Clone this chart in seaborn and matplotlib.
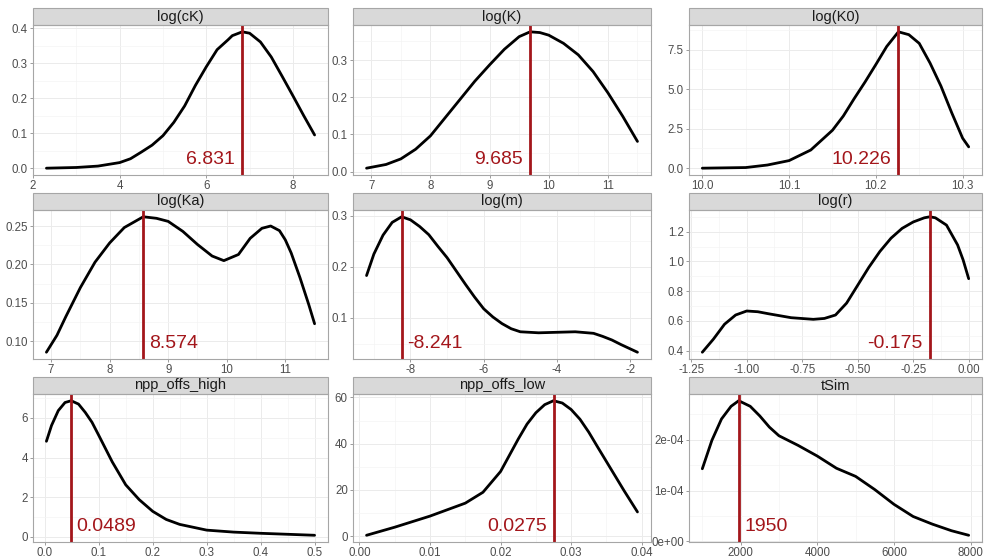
import matplotlib
matplotlib.use("Agg")
import matplotlib.pyplot as plt
from matplotlib.patches import Rectangle
from matplotlib.ticker import AutoMinorLocator
import seaborn as sns
import pandas as pd

# density curves (x, y)
ck_x = [2.31, 3.0, 3.5, 4.0, 4.25, 4.5, 4.75, 5.0, 5.25, 5.5, 5.75, 6.0, 6.25, 6.5, 6.6, 6.831,
        7.0, 7.25, 7.5, 7.75, 8.0, 8.25, 8.5]
ck_y = [0.0, 0.002, 0.006, 0.016, 0.027, 0.046, 0.066, 0.093, 0.131, 0.178, 0.237, 0.29, 0.339,
        0.367, 0.379, 0.39, 0.386, 0.361, 0.318, 0.263, 0.207, 0.15, 0.095]

k_x = [6.92, 7.25, 7.5, 7.75, 8.0, 8.25, 8.5, 8.75, 9.0, 9.25, 9.5, 9.685, 9.85, 10.0, 10.25,
       10.5, 10.75, 11.0, 11.25, 11.5]
k_y = [0.009, 0.019, 0.034, 0.06, 0.096, 0.145, 0.194, 0.243, 0.287, 0.329, 0.363, 0.376, 0.374,
       0.367, 0.345, 0.314, 0.269, 0.212, 0.149, 0.081]

k0_x = [10.0, 10.05, 10.075, 10.1, 10.125, 10.15, 10.1625, 10.175, 10.1875, 10.2, 10.2125,
        10.226, 10.238, 10.25, 10.2625, 10.275, 10.2875, 10.3, 10.307]
k0_y = [0.0, 0.04, 0.2, 0.48, 1.15, 2.4, 3.3, 4.4, 5.45, 6.56, 7.7, 8.63, 8.45, 7.9, 6.65, 5.2,
        3.5, 1.9, 1.35]

ka_x = [6.92, 7.1, 7.25, 7.5, 7.75, 8.0, 8.25, 8.574, 8.8, 9.0, 9.25, 9.5, 9.75, 9.95, 10.2,
        10.4, 10.6, 10.75, 10.9, 11.0, 11.1, 11.25, 11.4, 11.5]
ka_y = [0.086, 0.108, 0.132, 0.170, 0.203, 0.228, 0.248, 0.262, 0.260, 0.256, 0.243, 0.226,
        0.211, 0.205, 0.213, 0.234, 0.247, 0.250, 0.244, 0.232, 0.215, 0.183, 0.148, 0.123]

m_x = [-9.2, -9.0, -8.75, -8.5, -8.241, -8.0, -7.75, -7.5, -7.25, -7.0, -6.75, -6.5, -6.25,
       -6.0, -5.75, -5.5, -5.25, -5.0, -4.5, -4.0, -3.5, -3.0, -2.75, -2.5, -2.25, -1.8]
m_y = [0.183, 0.225, 0.262, 0.287, 0.298, 0.292, 0.279, 0.263, 0.24, 0.218, 0.192, 0.166, 0.141,
       0.118, 0.102, 0.089, 0.079, 0.073, 0.071, 0.072, 0.073, 0.070, 0.064, 0.057, 0.048, 0.033]

r_x = [-1.2, -1.15, -1.1, -1.05, -1.0, -0.95, -0.9, -0.8, -0.7, -0.65, -0.6, -0.55, -0.5, -0.45,
       -0.4, -0.35, -0.3, -0.25, -0.2, -0.175, -0.15, -0.1, -0.05, -0.025, 0.0]
r_y = [0.39, 0.478, 0.578, 0.64, 0.667, 0.662, 0.648, 0.622, 0.611, 0.617, 0.64, 0.72, 0.84,
       0.96, 1.067, 1.156, 1.222, 1.265, 1.293, 1.3, 1.293, 1.244, 1.111, 1.01, 0.884]

high_x = [0.003, 0.0125, 0.025, 0.0375, 0.0489, 0.0625, 0.075, 0.0875, 0.1, 0.1125, 0.125,
          0.15, 0.175, 0.2, 0.225, 0.25, 0.3, 0.35, 0.4, 0.45, 0.5]
high_y = [4.82, 5.62, 6.37, 6.78, 6.87, 6.7, 6.28, 5.78, 5.12, 4.45, 3.78, 2.62, 1.87, 1.28,
          0.87, 0.62, 0.33, 0.23, 0.17, 0.12, 0.07]

low_x = [0.001, 0.005, 0.01, 0.0125, 0.015, 0.0175, 0.02, 0.02125, 0.0225, 0.02375, 0.025,
         0.02625, 0.0275, 0.02875, 0.03, 0.03125, 0.0325, 0.03375, 0.035, 0.03625, 0.0375, 0.0394]
low_y = [0.4, 3.9, 8.7, 11.5, 14.3, 19.0, 28.0, 35.0, 42.0, 48.5, 53.4, 56.9, 58.6, 57.6, 54.8,
         50.6, 45.0, 38.6, 32.3, 26.0, 19.7, 10.5]

tsim_x = [1000, 1250, 1500, 1750, 1950, 2250, 2500, 2750, 3000, 3500, 4000, 4500, 5000, 5500,
          6000, 6500, 7000, 7500, 7950]
tsim_y = [1.43e-4, 1.99e-4, 2.41e-4, 2.66e-4, 2.77e-4, 2.66e-4, 2.47e-4, 2.25e-4, 2.08e-4,
          1.89e-4, 1.68e-4, 1.44e-4, 1.28e-4, 1.02e-4, 0.73e-4, 0.49e-4, 0.34e-4, 0.21e-4, 0.12e-4]

titles = ["log(cK)", "log(K)", "log(K0)", "log(Ka)", "log(m)", "log(r)",
          "npp_offs_high", "npp_offs_low", "tSim"]
modes = [6.831, 9.685, 10.226, 8.574, -8.241, -0.175, 0.0489, 0.0275, 1950]
mode_labels = ["6.831", "9.685", "10.226", "8.574", "-8.241", "-0.175", "0.0489", "0.0275", "1950"]
label_side = ["left", "left", "left", "right", "right", "left", "right", "left", "right"]

x_ticks = [[2, 4, 6, 8], [7, 8, 9, 10, 11], [10.0, 10.1, 10.2, 10.3], [7, 8, 9, 10, 11],
           [-8, -6, -4, -2], [-1.25, -1.0, -0.75, -0.5, -0.25, 0.0], [0, 0.1, 0.2, 0.3, 0.4, 0.5],
           [0, 0.01, 0.02, 0.03, 0.04], [2000, 4000, 6000, 8000]]
x_labels = [["2", "4", "6", "8"], ["7", "8", "9", "10", "11"], ["10.0", "10.1", "10.2", "10.3"],
            ["7", "8", "9", "10", "11"], ["-8", "-6", "-4", "-2"],
            ["-1.25", "-1.00", "-0.75", "-0.50", "-0.25", "0.00"],
            ["0.0", "0.1", "0.2", "0.3", "0.4", "0.5"], ["0.00", "0.01", "0.02", "0.03", "0.04"],
            ["2000", "4000", "6000", "8000"]]
y_ticks = [[0, 0.1, 0.2, 0.3, 0.4], [0, 0.1, 0.2, 0.3], [0, 2.5, 5.0, 7.5], [0.10, 0.15, 0.20, 0.25],
           [0.1, 0.2, 0.3], [0.4, 0.6, 0.8, 1.0, 1.2], [0, 2, 4, 6], [0, 20, 40, 60], [0, 1e-4, 2e-4]]
y_labels = [["0.0", "0.1", "0.2", "0.3", "0.4"], ["0.0", "0.1", "0.2", "0.3"],
            ["0.0", "2.5", "5.0", "7.5"], ["0.10", "0.15", "0.20", "0.25"], ["0.1", "0.2", "0.3"],
            ["0.4", "0.6", "0.8", "1.0", "1.2"], ["0", "2", "4", "6"], ["0", "20", "40", "60"],
            ["0e+00", "1e-04", "2e-04"]]

curves = [(ck_x, ck_y), (k_x, k_y), (k0_x, k0_y), (ka_x, ka_y), (m_x, m_y), (r_x, r_y),
          (high_x, high_y), (low_x, low_y), (tsim_x, tsim_y)]

sns.set_theme(style="white")
plt.rcParams["font.family"] = ["Liberation Sans", "DejaVu Sans"]

RED = "#A3161B"
W, H = 984, 560
cols = [(33, 328), (353, 651), (689, 982)]
rows = [(25, 175), (210, 359), (394, 542)]
strip_px = 17

fig = plt.figure(figsize=(9.84, 5.6), dpi=100)

for i in range(9):
    l, r = cols[i % 3]
    t, b = rows[i // 3]
    ax = fig.add_axes([l / W, 1 - b / H, (r - l) / W, (b - t) / H])
    xs, ys = curves[i]
    df = pd.DataFrame({"x": xs, "y": ys})
    sns.lineplot(data=df, x="x", y="y", ax=ax, color="black", linewidth=2.0)
    ax.axvline(modes[i], color=RED, linewidth=2.0)

    if label_side[i] == "left":
        ax.annotate(mode_labels[i], xy=(modes[i], 0.045), xycoords=ax.get_xaxis_transform(),
                    xytext=(-5, 0), textcoords="offset points", ha="right", va="bottom",
                    color=RED, fontsize=14)
    else:
        ax.annotate(mode_labels[i], xy=(modes[i], 0.045), xycoords=ax.get_xaxis_transform(),
                    xytext=(4, 0), textcoords="offset points", ha="left", va="bottom",
                    color=RED, fontsize=14)

    ax.set_xticks(x_ticks[i])
    ax.set_xticklabels(x_labels[i])
    ax.set_yticks(y_ticks[i])
    ax.set_yticklabels(y_labels[i])
    ax.xaxis.set_minor_locator(AutoMinorLocator(2))
    ax.yaxis.set_minor_locator(AutoMinorLocator(2))
    ax.grid(which="major", color="#EBEBEB", linewidth=0.7)
    ax.grid(which="minor", color="#F4F4F4", linewidth=0.5)
    ax.set_axisbelow(True)
    ax.set_xlabel("")
    ax.set_ylabel("")
    ax.tick_params(axis="both", which="major", labelsize=8.3, labelcolor="#4D4D4D",
                   length=2.5, width=0.6, color="#8C8C8C", pad=1.2, bottom=True, left=True)
    ax.tick_params(axis="both", which="minor", length=0)
    for sp in ax.spines.values():
        sp.set_color("#A6A6A6")
        sp.set_linewidth(0.8)

    sh = strip_px / (b - t)
    ax.add_patch(Rectangle((0, 1), 1, sh, transform=ax.transAxes, clip_on=False,
                           facecolor="#D9D9D9", edgecolor="#A6A6A6", linewidth=0.8))
    ax.text(0.5, 1 + sh / 2, titles[i], transform=ax.transAxes, ha="center", va="center",
            fontsize=10.5, color="#1A1A1A")

fig.savefig("out.png", dpi=100)
